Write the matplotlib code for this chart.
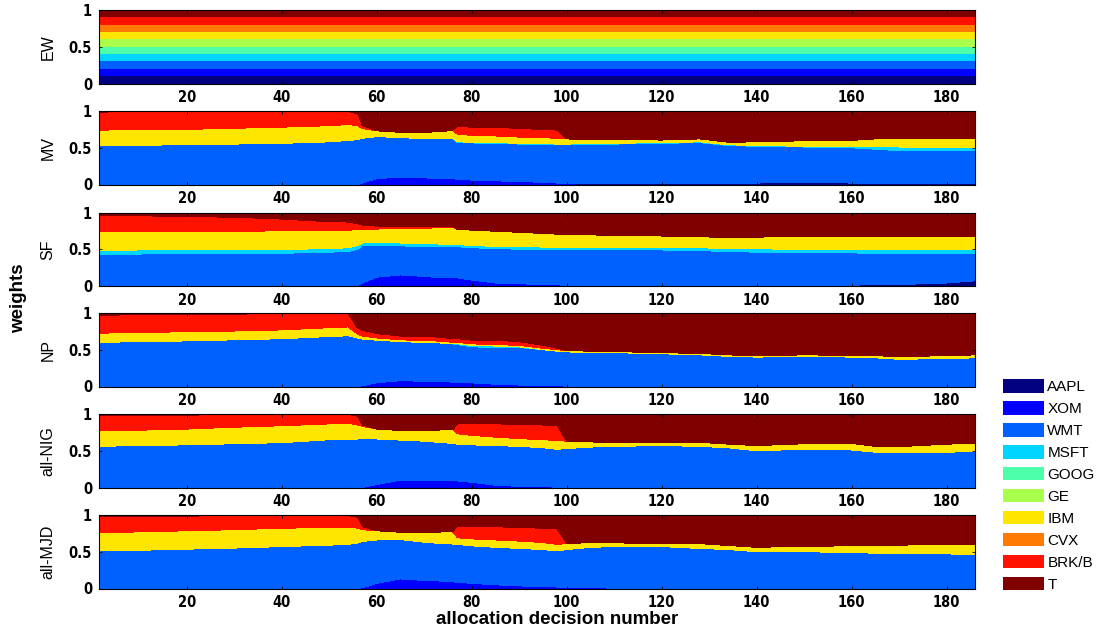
import numpy as np
import matplotlib
matplotlib.use("Agg")
import matplotlib.pyplot as plt
from matplotlib.patches import Patch
from matplotlib import font_manager as fm

# ---------------------------------------------------------------- data
assets = ["AAPL", "XOM", "WMT", "MSFT", "GOOG", "GE", "IBM", "CVX", "BRK/B", "T"]
strategies = ["EW", "MV", "SF", "NP", "all-NIG", "all-MJD"]

decisions = [1, 10, 20, 30, 40, 50, 54, 56, 57, 60, 65, 70, 74, 76, 77, 80, 85,
             90, 95, 98, 100, 105, 110, 120, 128, 134, 140, 150, 160, 165, 170,
             180, 186]

# equal weights: one value per asset
ew_weights = [0.1, 0.1, 0.1, 0.1, 0.1, 0.1, 0.1, 0.1, 0.1, 0.1]

# mean-variance
mv_aapl = [0, 0, 0, 0, 0, 0, 0, 0, 0, 0, 0, 0, 0, 0, 0, 0, 0, 0, 0, 0,
           0.005, 0.01, 0.01, 0.01, 0.015, 0.02, 0.02, 0.025, 0.02, 0.015, 0.01, 0.01, 0.01]
mv_xom = [0, 0, 0, 0, 0, 0, 0, 0, 0.02, 0.08, 0.10, 0.09, 0.08, 0.08, 0.07, 0.06, 0.05,
          0.04, 0.03, 0.02, 0.01, 0.005, 0, 0, 0, 0, 0, 0, 0, 0, 0, 0, 0]
mv_wmt = [0.53, 0.535, 0.54, 0.55, 0.56, 0.58, 0.60, 0.61, 0.61, 0.57, 0.54, 0.53, 0.55,
          0.55, 0.50, 0.505, 0.51, 0.51, 0.515, 0.52, 0.525, 0.53, 0.54, 0.55, 0.555,
          0.51, 0.50, 0.485, 0.48, 0.465, 0.45, 0.45, 0.45]
mv_msft = [0, 0, 0, 0, 0, 0, 0, 0, 0, 0, 0, 0, 0, 0, 0.01, 0.01, 0.01, 0.01, 0.01, 0.01,
           0.01, 0.01, 0.01, 0.01, 0.01, 0.01, 0.01, 0.01, 0.02, 0.04, 0.05, 0.05, 0.05]
mv_ibm = [0.21, 0.21, 0.21, 0.215, 0.22, 0.22, 0.215, 0.19, 0.13, 0.08, 0.07, 0.09, 0.09,
          0.11, 0.10, 0.095, 0.09, 0.085, 0.08, 0.08, 0.07, 0.055, 0.05, 0.035, 0.04,
          0.035, 0.05, 0.075, 0.08, 0.10, 0.115, 0.115, 0.115]
mv_brk = [0.245, 0.245, 0.24, 0.225, 0.215, 0.195, 0.18, 0.16, 0.04, 0, 0, 0, 0, 0,
          0.11, 0.11, 0.12, 0.115, 0.115, 0.11, 0, 0, 0, 0, 0, 0, 0, 0, 0, 0, 0, 0, 0]

# SF
sf_aapl = [0, 0, 0, 0, 0, 0, 0, 0, 0, 0, 0, 0, 0, 0, 0, 0, 0, 0, 0, 0, 0, 0, 0, 0, 0,
           0, 0, 0, 0.01, 0.02, 0.02, 0.04, 0.07]
sf_xom = [0, 0, 0, 0, 0, 0, 0, 0.01, 0.04, 0.12, 0.15, 0.13, 0.11, 0.11, 0.11, 0.08,
          0.04, 0.03, 0.02, 0.015, 0.01, 0.005, 0, 0, 0, 0, 0, 0, 0, 0, 0, 0, 0]
sf_wmt = [0.43, 0.435, 0.44, 0.44, 0.445, 0.46, 0.47, 0.49, 0.51, 0.43, 0.395, 0.41,
          0.43, 0.43, 0.425, 0.44, 0.47, 0.47, 0.47, 0.475, 0.48, 0.485, 0.49, 0.49,
          0.48, 0.47, 0.46, 0.455, 0.44, 0.425, 0.42, 0.40, 0.37]
sf_msft = [0.055, 0.055, 0.05, 0.05, 0.05, 0.05, 0.05, 0.05, 0.035, 0.04, 0.04, 0.035,
           0.03, 0.03, 0.03, 0.03, 0.03, 0.035, 0.04, 0.04, 0.04, 0.04, 0.04, 0.04,
           0.04, 0.04, 0.045, 0.045, 0.05, 0.055, 0.055, 0.05, 0.05]
sf_ibm = [0.255, 0.25, 0.255, 0.255, 0.255, 0.245, 0.24, 0.215, 0.185, 0.185, 0.195,
          0.21, 0.225, 0.23, 0.205, 0.21, 0.205, 0.195, 0.185, 0.175, 0.17, 0.165,
          0.16, 0.15, 0.15, 0.15, 0.16, 0.175, 0.18, 0.175, 0.185, 0.19, 0.19]
sf_brk = [0.22, 0.215, 0.20, 0.19, 0.16, 0.12, 0.11, 0.08, 0.06, 0.04, 0.03, 0.02, 0.01,
          0.01, 0, 0, 0, 0, 0, 0, 0, 0, 0, 0, 0, 0, 0, 0, 0, 0, 0, 0, 0]

# NP
np_aapl = [0] * 33
np_xom = [0, 0, 0, 0, 0, 0, 0, 0, 0.01, 0.05, 0.08, 0.07, 0.065, 0.06, 0.06, 0.05, 0.03,
          0.02, 0.015, 0.01, 0.005, 0, 0, 0, 0, 0, 0, 0, 0, 0, 0, 0, 0]
np_wmt = [0.60, 0.61, 0.62, 0.635, 0.65, 0.68, 0.69, 0.66, 0.635, 0.58, 0.53, 0.53,
          0.525, 0.52, 0.51, 0.49, 0.50, 0.51, 0.485, 0.47, 0.465, 0.465, 0.46, 0.445,
          0.43, 0.41, 0.40, 0.41, 0.40, 0.39, 0.37, 0.38, 0.39]
np_msft = [0, 0, 0, 0, 0, 0, 0, 0, 0, 0, 0, 0, 0, 0, 0.01, 0.02, 0.02, 0.01, 0, 0, 0, 0,
           0, 0, 0, 0, 0, 0, 0, 0, 0, 0, 0]
np_ibm = [0.125, 0.125, 0.125, 0.12, 0.12, 0.12, 0.12, 0.05, 0.04, 0.03, 0.025, 0.025,
          0.025, 0.02, 0.02, 0.02, 0.02, 0.02, 0.02, 0.02, 0.02, 0.015, 0.015, 0.015,
          0.02, 0.02, 0.02, 0.02, 0.025, 0.03, 0.035, 0.04, 0.04]
np_brk = [0.245, 0.24, 0.235, 0.23, 0.22, 0.19, 0.18, 0.08, 0.08, 0.06, 0.05, 0.06, 0.05,
          0.05, 0.05, 0.05, 0.06, 0.05, 0.04, 0.02, 0, 0, 0, 0, 0, 0, 0, 0, 0, 0, 0, 0, 0]

# all-NIG
nig_aapl = [0] * 33
nig_xom = [0, 0, 0, 0, 0, 0, 0, 0, 0, 0.04, 0.10, 0.10, 0.09, 0.09, 0.09, 0.07, 0.03,
           0.015, 0.01, 0.005, 0, 0, 0, 0, 0, 0, 0, 0, 0, 0, 0, 0, 0]
nig_wmt = [0.56, 0.57, 0.58, 0.595, 0.61, 0.65, 0.65, 0.66, 0.66, 0.62, 0.545, 0.53,
           0.52, 0.51, 0.50, 0.51, 0.54, 0.545, 0.53, 0.515, 0.53, 0.55, 0.56, 0.57,
           0.56, 0.54, 0.50, 0.52, 0.51, 0.48, 0.48, 0.48, 0.49]
nig_msft = [0] * 33
nig_ibm = [0.21, 0.21, 0.215, 0.225, 0.23, 0.215, 0.225, 0.19, 0.17, 0.135, 0.13, 0.14,
           0.175, 0.185, 0.14, 0.13, 0.115, 0.105, 0.11, 0.12, 0.10, 0.07, 0.05, 0.04,
           0.055, 0.05, 0.07, 0.075, 0.09, 0.08, 0.075, 0.11, 0.11]
nig_brk = [0.205, 0.20, 0.19, 0.17, 0.155, 0.13, 0.12, 0.12, 0.02, 0, 0, 0, 0, 0, 0.14,
           0.16, 0.18, 0.195, 0.20, 0.20, 0, 0, 0, 0, 0, 0, 0, 0, 0, 0, 0, 0, 0]

# all-MJD
mjd_aapl = [0] * 33
mjd_xom = [0, 0, 0, 0, 0, 0, 0, 0, 0.01, 0.07, 0.13, 0.11, 0.10, 0.09, 0.085, 0.07,
           0.05, 0.035, 0.025, 0.02, 0.015, 0.01, 0.005, 0, 0, 0, 0, 0, 0, 0, 0, 0, 0]
mjd_wmt = [0.51, 0.52, 0.535, 0.55, 0.57, 0.59, 0.60, 0.62, 0.63, 0.59, 0.535, 0.52,
           0.51, 0.515, 0.515, 0.51, 0.51, 0.51, 0.505, 0.49, 0.515, 0.55, 0.565, 0.57,
           0.545, 0.53, 0.50, 0.50, 0.49, 0.48, 0.48, 0.47, 0.465]
mjd_msft = [0] * 33
mjd_ibm = [0.25, 0.25, 0.25, 0.25, 0.25, 0.24, 0.235, 0.20, 0.16, 0.125, 0.10, 0.13,
           0.16, 0.165, 0.09, 0.095, 0.10, 0.10, 0.095, 0.09, 0.08, 0.065, 0.05, 0.045,
           0.065, 0.055, 0.06, 0.075, 0.09, 0.11, 0.11, 0.13, 0.135]
mjd_brk = [0.215, 0.21, 0.20, 0.19, 0.17, 0.16, 0.155, 0.15, 0.04, 0, 0, 0, 0, 0, 0.16,
           0.17, 0.18, 0.185, 0.195, 0.21, 0, 0, 0, 0, 0, 0, 0, 0, 0, 0, 0, 0, 0]


def weight_matrix(aapl, xom, wmt, msft, ibm, brk):
    """Stack the asset weights in legend order; T holds the remainder."""
    n = len(decisions)
    zero = np.zeros(n)
    w = np.array([aapl, xom, wmt, msft, zero, zero, ibm, zero, brk], dtype=float)
    return np.vstack([w, 1.0 - w.sum(axis=0)])


ew = np.repeat(np.array(ew_weights, dtype=float)[:, None], len(decisions), axis=1)
panels = [
    ew,
    weight_matrix(mv_aapl, mv_xom, mv_wmt, mv_msft, mv_ibm, mv_brk),
    weight_matrix(sf_aapl, sf_xom, sf_wmt, sf_msft, sf_ibm, sf_brk),
    weight_matrix(np_aapl, np_xom, np_wmt, np_msft, np_ibm, np_brk),
    weight_matrix(nig_aapl, nig_xom, nig_wmt, nig_msft, nig_ibm, nig_brk),
    weight_matrix(mjd_aapl, mjd_xom, mjd_wmt, mjd_msft, mjd_ibm, mjd_brk),
]

# ---------------------------------------------------------------- style
installed = {f.name for f in fm.fontManager.ttflist}
sans = "Liberation Sans" if "Liberation Sans" in installed else "DejaVu Sans"

colors = plt.cm.jet(np.linspace(0, 1, len(assets)))

W, H = 1102, 634
fig = plt.figure(figsize=(W / 100, H / 100), dpi=100)

left_px, width_px, height_px = 99, 876, 73.5
tops_px = [10, 111, 212.5, 313, 414, 515]

for name, weights, top in zip(strategies, panels, tops_px):
    ax = fig.add_axes([left_px / W, 1 - (top + height_px) / H, width_px / W, height_px / H])
    ax.stackplot(decisions, weights, colors=colors, linewidth=0, antialiased=False)
    ax.set_xlim(1.5, 186)
    ax.set_ylim(0, 1)
    ax.set_xticks(range(20, 181, 20))
    ax.set_yticks([0, 0.5, 1])
    ax.set_yticklabels(["0", "0.5", "1"])
    ax.tick_params(direction="in", length=2, width=0.6, top=True, right=True,
                   labelsize=10.5, pad=5)
    for lab in ax.get_xticklabels() + ax.get_yticklabels():
        lab.set_fontfamily("DejaVu Sans")
        lab.set_fontstretch("condensed")
        lab.set_fontweight("bold")
    for sp in ax.spines.values():
        sp.set_linewidth(0.8)
        sp.set_color("black")
    fig.text(48 / W, 1 - (top + height_px / 2) / H, name, rotation=90,
             ha="center", va="center", fontsize=11.5, family=sans)

fig.text(19 / W, 1 - 298 / H, "weights", rotation=90, ha="center", va="center",
         fontsize=13.5, fontweight="bold", family=sans)
fig.text(557 / W, 1 - 620 / H, "allocation decision number", ha="center",
         va="center", fontsize=13.5, fontweight="bold", family=sans)

handles = [Patch(facecolor=c, edgecolor="none") for c in colors]
fig.legend(handles, assets, loc="upper left",
           bbox_to_anchor=(1003 / W, 1 - 379 / H), frameon=False,
           prop={"family": sans, "size": 11}, handlelength=2.7,
           handleheight=1.0, labelspacing=0.45, handletextpad=0.2,
           borderpad=0, borderaxespad=0)

fig.savefig("out.png", dpi=100)
